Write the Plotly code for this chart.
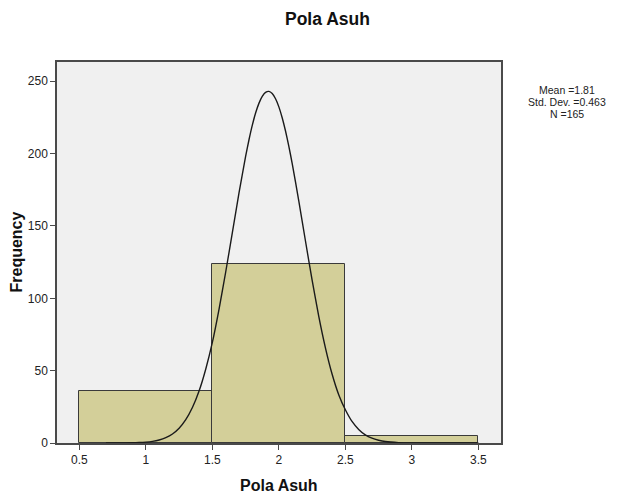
import plotly.graph_objects as go

# Histogram data (bin centers, counts)
bin_centers = [1, 2, 3]
counts = [36, 124, 5]

# Normal curve
curve_x = [0.7, 0.8, 0.9, 0.95, 1.0, 1.05, 1.1, 1.15, 1.2, 1.25, 1.3, 1.35, 1.4, 1.45, 1.5, 1.55, 1.6,
           1.65, 1.7, 1.75, 1.775, 1.8, 1.825, 1.85, 1.875, 1.9, 1.925, 1.95, 1.975, 2.0, 2.025, 2.05,
           2.075, 2.1, 2.15, 2.2, 2.25, 2.3, 2.35, 2.4, 2.45, 2.5, 2.55, 2.6, 2.65, 2.7, 2.75, 2.8,
           2.9, 3.0, 3.1, 3.2, 3.3, 3.4, 3.5]
curve_y = [0.0, 0.02, 0.16, 0.31, 0.6, 1.15, 2.1, 3.7, 6.2, 10.2, 16.1, 24.5, 35.9, 51.0, 69.5, 92.4,
           118, 145.2, 172.6, 198.1, 209.4, 219.5, 228.0, 234.7, 239.5, 242.3, 243.0, 241.5, 237.9,
           232.3, 224.8, 215.6, 205.0, 193.3, 167.2, 139.6, 112.5, 87.5, 65.8, 47.7, 33.4, 23.0, 14.9,
           9.4, 5.6, 3.3, 1.9, 1.0, 0.27, 0.07, 0.02, 0.0, 0.0, 0.0, 0.0]

x_ticks = [0.5, 1, 1.5, 2, 2.5, 3, 3.5]
x_tick_labels = ["0.5", "1", "1.5", "2", "2.5", "3", "3.5"]
y_ticks = [0, 50, 100, 150, 200, 250]

stats_lines = ["Mean =1.81", "Std. Dev. =0.463", "N =165"]

FONT = "Liberation Sans, Arial, sans-serif"
W, H = 627, 497
L, R, T, B = 57, 126, 62, 54
PW, PH = W - L - R, H - T - B

fig = go.Figure()
fig.add_trace(go.Bar(
    x=bin_centers, y=counts, width=[1] * len(counts),
    marker=dict(color="#D3CF99", line=dict(color="#3a3a3a", width=1)),
    showlegend=False, hoverinfo="x+y",
))
fig.add_trace(go.Scatter(
    x=curve_x, y=curve_y, mode="lines",
    line=dict(color="#1a1a1a", width=1.4, shape="spline", smoothing=0.5),
    showlegend=False, cliponaxis=True,
))

axis_common = dict(
    showline=True, mirror=True, linecolor="#4a4a4a", linewidth=1.5,
    ticks="outside", ticklen=5, tickcolor="#4a4a4a", tickwidth=1.2,
    showgrid=False, zeroline=False,
    tickfont=dict(family=FONT, size=12, color="#222222"),
)

annotations = [
    dict(text="<b>Pola Asuh</b>", xref="paper", yref="paper",
         x=(327 - L) / PW, y=1 + (T - 19) / PH,
         xanchor="center", yanchor="middle", showarrow=False,
         font=dict(family=FONT, size=17.5, color="#111111")),
    dict(text="<b>Pola Asuh</b>", xref="paper", yref="paper",
         x=0.5, y=-(485 - (H - B)) / PH,
         xanchor="center", yanchor="middle", showarrow=False,
         font=dict(family=FONT, size=16, color="#111111")),
    dict(text="<b>Frequency</b>", xref="paper", yref="paper",
         x=-(L - 16) / PW, y=0.5, textangle=-90,
         xanchor="center", yanchor="middle", showarrow=False,
         font=dict(family=FONT, size=16, color="#111111")),
]
for line, ypx in zip(stats_lines, [90, 102, 114]):
    annotations.append(dict(
        text=line, xref="paper", yref="paper",
        x=1 + (567 - (W - R)) / PW, y=1 - (ypx - T) / PH,
        xanchor="center", yanchor="middle", showarrow=False, borderpad=0,
        font=dict(family=FONT, size=10.5, color="#222222")))

fig.update_layout(
    width=W, height=H,
    margin=dict(l=L, r=R, t=T, b=B),
    paper_bgcolor="white", plot_bgcolor="#F0F0F0",
    bargap=0,
    xaxis=dict(range=[0.332, 3.67], tickvals=x_ticks, ticktext=x_tick_labels, **axis_common),
    yaxis=dict(range=[0, 263.3], tickvals=y_ticks, **axis_common),
    annotations=annotations,
)

fig.write_html("out.html", config={"displayModeBar": False},
               post_script="document.body.style.margin='0';document.body.style.overflow='hidden';")
